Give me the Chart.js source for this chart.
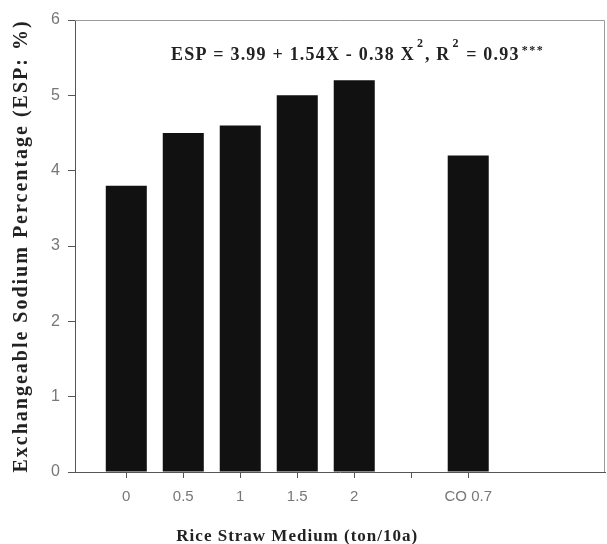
<!DOCTYPE html>
<html>
<head>
<meta charset="utf-8">
<script src="https://cdn.jsdelivr.net/npm/chart.js@4"></script>
<style>
  html, body { margin: 0; padding: 0; background: #fff; }
  #wrap { width: 607px; height: 544px; }
</style>
</head>
<body>
<div id="wrap"><canvas id="espChart"></canvas></div>
<script>
const xLabels = ["0", "0.5", "1", "1.5", "2", "", "CO 0.7"];
const espValues = [3.8, 4.5, 4.6, 5.0, 5.2, null, 4.2];
const yTicks = [0, 1, 2, 3, 4, 5, 6];

const serif = "'Liberation Serif', 'Times New Roman', serif";
const sans = "'Liberation Sans', Arial, sans-serif";

// frame on top / right, equation, axis titles
const extras = {
  id: "extras",
  afterDraw(chart) {
    const { ctx, chartArea: a, scales } = chart;
    ctx.save();
    ctx.strokeStyle = "#9a9a9a";
    ctx.lineWidth = 1;
    ctx.beginPath();
    ctx.moveTo(a.left, a.top + 0.5);
    ctx.lineTo(a.right - 0.5, a.top + 0.5);
    ctx.lineTo(a.right - 0.5, a.bottom);
    ctx.stroke();

    // equation
    ctx.fillStyle = "#222";
    ctx.textBaseline = "alphabetic";
    ctx.textAlign = "left";
    const big = "bold 18px " + serif;
    const small = "bold 12px " + serif;
    const parts = [
      ["ESP = 3.99 + 1.54X - 0.38 X", big, 0, 1.2],
      ["2", small, -13, 0],
      [", R", big, 0, 1.2],
      ["2", small, -13, 0],
      [" = 0.93", big, 0, 1.2],
      ["***", small, -6, 1.5],
    ];
    let x = 171;
    const y = 60;
    parts.forEach(([t, f, dy, ls]) => {
      ctx.font = f;
      ctx.letterSpacing = ls + "px";
      ctx.fillText(t, x, y + dy);
      x += ctx.measureText(t).width + 2;
    });

    // x title, centred under the ticks
    const sx = scales.x;
    const cx = (sx.getPixelForValue(0) + sx.getPixelForValue(xLabels.length - 1)) / 2;
    ctx.font = "bold 17px " + serif;
    ctx.letterSpacing = "1px";
    ctx.textAlign = "center";
    ctx.fillText("Rice Straw Medium (ton/10a)", cx, 541);

    // y title
    ctx.translate(22, (a.top + a.bottom) / 2);
    ctx.rotate(-Math.PI / 2);
    ctx.font = "bold 20px " + serif;
    ctx.letterSpacing = "2px";
    ctx.textBaseline = "middle";
    ctx.fillText("Exchangeable Sodium Percentage (ESP: %)", 0, 0);
    ctx.restore();
  },
};

new Chart(document.getElementById("espChart"), {
  type: "bar",
  data: {
    datasets: [
      {
        data: xLabels.map((l, i) => ({ x: i, y: espValues[i] })),
        backgroundColor: "#111",
        borderWidth: 0,
        barPercentage: 0.72,
        categoryPercentage: 1,
      },
    ],
  },
  options: {
    responsive: true,
    maintainAspectRatio: false,
    animation: false,
    layout: { padding: { top: 20, right: 2, left: 0, bottom: 0 } },
    plugins: { legend: { display: false }, tooltip: { enabled: false } },
    scales: {
      x: {
        type: "linear",
        offset: false,
        min: -0.9,
        max: 8.4,
        afterBuildTicks: (s) => {
          s.ticks = xLabels.map((_, i) => ({ value: i }));
        },
        afterFit: (s) => {
          s.height = 72;
        },
        grid: { offset: false, drawOnChartArea: false, tickLength: 6, color: "#555" },
        border: { color: "#555", width: 1 },
        ticks: {
          autoSkip: false,
          maxRotation: 0,
          padding: 10,
          color: "#777",
          font: { family: sans, size: 15 },
          callback: (v) => xLabels[Math.round(v)] ?? "",
        },
      },
      y: {
        min: 0,
        max: 6,
        afterBuildTicks: (s) => {
          s.ticks = yTicks.map((v) => ({ value: v }));
        },
        afterFit: (s) => {
          s.width = 75;
        },
        grid: { drawOnChartArea: false, tickLength: 7, color: "#555" },
        border: { color: "#555", width: 1 },
        ticks: {
          padding: 8,
          color: "#777",
          font: { family: sans, size: 16 },
        },
      },
    },
  },
  plugins: [extras],
});
</script>
</body>
</html>
